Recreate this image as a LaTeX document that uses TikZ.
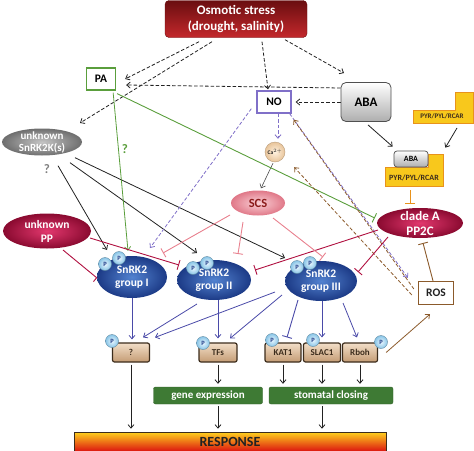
\documentclass[tikz,border=0pt]{standalone}
\usepackage{fontspec}
\setmainfont{Carlito}
\usetikzlibrary{arrows.meta,shapes.geometric}
\pgfdeclarelayer{bg}
\pgfsetlayers{bg,main}
\newcommand{\myfs}[2]{\fontsize{#1}{#2}\selectfont\bfseries}
\definecolor{stTop}{HTML}{6A0E10}
\definecolor{stBot}{HTML}{C4282C}
\definecolor{paG}{HTML}{5A9E3C}
\definecolor{noP}{HTML}{8070C8}
\definecolor{abaB}{HTML}{505050}
\definecolor{abaG}{HTML}{AEAEAE}
\definecolor{yelF}{HTML}{F8C81C}
\definecolor{yelB}{HTML}{E8921C}
\definecolor{ppIn}{HTML}{E2386E}
\definecolor{ppOut}{HTML}{8A0A30}
\definecolor{snIn}{HTML}{5282D0}
\definecolor{snOut}{HTML}{1C3A86}
\definecolor{kkIn}{HTML}{C4C4C4}
\definecolor{kkOut}{HTML}{6E6E6E}
\definecolor{scIn}{HTML}{FAD0D6}
\definecolor{scOut}{HTML}{E07888}
\definecolor{scT}{HTML}{8B1A1A}
\definecolor{caIn}{HTML}{FFF2E0}
\definecolor{caOut}{HTML}{E8C49A}
\definecolor{pIn}{HTML}{EAF7FF}
\definecolor{pOut}{HTML}{88C4E6}
\definecolor{pT}{HTML}{1C3A86}
\definecolor{tgTop}{HTML}{F2DEC8}
\definecolor{tgBot}{HTML}{C49C74}
\definecolor{tgB}{HTML}{3C2C1C}
\definecolor{gnF}{HTML}{3E7A34}
\definecolor{rsTop}{HTML}{FFD21E}
\definecolor{rsMid}{HTML}{EE3012}
\definecolor{rsBot}{HTML}{DC1610}
\definecolor{brn}{HTML}{8B5A2B}
\definecolor{crim}{HTML}{B01040}
\definecolor{pnk}{HTML}{E8808E}
\definecolor{blu}{HTML}{4A4AA8}
\definecolor{blk}{HTML}{222222}
\begin{document}
\begin{tikzpicture}[x=1pt,y=-1pt,
  ar/.style={-{Straight Barb[length=3.5pt,width=6pt]}, line width=0.8pt},
  tb/.style={-{Bar[width=10pt]}, line width=0.9pt},
  dsh/.style={dash pattern=on 3.5pt off 2pt},
  ell/.style={ellipse, inner sep=-6pt, align=center, text=white},
  sn/.style={ell, minimum width=72pt, minimum height=42pt, inner color=snIn, outer color=snOut, font={\myfs{11.5}{13}}},
  pc/.style={circle, inner sep=0pt, minimum size=13pt, draw=pOut!70!black, line width=0.4pt, inner color=pIn, outer color=pOut, text=pT, font={\myfs{6.5}{7}}},
  tgt/.style={rectangle, rounded corners=2pt, draw=tgB, line width=1.2pt, top color=tgTop, bottom color=tgBot, minimum height=19pt, inner sep=0pt, text=tgB, font={\myfs{9}{10}}},
  gbox/.style={rectangle, rounded corners=2pt, fill=gnF, draw=gnF!80!black, minimum height=17pt, inner sep=0pt, text=white, font={\myfs{11}{12}}},
  sq/.style={rectangle, fill=white, line width=1.3pt, minimum height=22pt, inner sep=0pt, font={\myfs{11.5}{12}}}
]
\useasboundingbox (0,0) rectangle (474,450);

% ---------- nodes ----------
\node[draw=stTop, rounded corners=4pt, top color=stTop, bottom color=stBot, minimum width=142pt, minimum height=37pt, inner sep=0pt, text=white, align=center, font={\myfs{13}{16}}] (stress) at (236,19) {Osmotic stress\\(drought, salinity)};

\node[sq, draw=paG, minimum width=29pt] (PA) at (101,79) {PA};
\node[sq, draw=noP, minimum width=34pt] (NO) at (274,102) {NO};
\node[draw=abaB, line width=0.8pt, rounded corners=5pt, top color=white, bottom color=abaG, minimum width=50pt, minimum height=39pt, inner sep=0pt, font={\myfs{13}{14}}] (ABA) at (366,102) {ABA};

% free receptor
\draw[fill=yelF, draw=yelB, line width=1pt] (413,110) -- (455,110) -- (455,92) -- (473.5,92) -- (473.5,123) -- (413,123) -- cycle;
\node[inner sep=0pt, text=tgB, font={\myfs{7}{8}}] (pyr) at (442,116.5) {PYR/PYL/RCAR};

% complex
\draw[fill=yelF, draw=yelB, line width=1pt] (385,167) -- (428,167) -- (428,154) -- (443,154) -- (443,186) -- (385,186) -- cycle;
\node[draw=abaB, line width=0.7pt, rounded corners=3pt, top color=white, bottom color=abaG, minimum width=34pt, minimum height=16pt, inner sep=0pt, font={\myfs{8}{9}}] (cABA) at (411,159) {ABA};
\node[inner sep=0pt, text=tgB, font={\myfs{8}{9}}] (cR) at (414,177.5) {PYR/PYL/RCAR};

\node[ell, minimum width=86pt, minimum height=30pt, inner color=ppIn, outer color=ppOut, font={\myfs{13}{15}}] (PP2C) at (420,223) {clade A\\PP2C};
\node[sq, draw=brn, minimum width=35pt, minimum height=23pt, text=blk] (ROS) at (436,293) {ROS};

\node[circle, draw=caOut!80!black, line width=0.4pt, inner color=caIn, outer color=caOut, minimum size=20pt, inner sep=0pt, text=blk, font={\myfs{5.5}{6}}] (Ca) at (275,152) {Ca$^{2+}$};
\node[ell, minimum width=54pt, minimum height=25pt, inner color=scIn, outer color=scOut, text=scT, font={\myfs{12.5}{13}}] (SCS) at (258,203) {SCS};

\node[ell, minimum width=80pt, minimum height=27pt, inner color=kkIn, outer color=kkOut, font={\myfs{11}{12}}] (SnRK2K) at (42,142) {unknown\\SnRK2K(s)};
\node[ell, minimum width=88pt, minimum height=35pt, inner color=ppIn, outer color=ppOut, font={\myfs{11.5}{14}}] (uPP) at (47,231) {unknown\\PP};

\node[sn, minimum width=70pt] (grpI) at (132,277) {SnRK2\\group I};
\node[sn, minimum width=74pt, minimum height=40pt] (grpII) at (214,280) {SnRK2\\group II};
\node[sn, minimum height=40pt] (grpIII) at (321,281) {SnRK2\\group III};

\node[pc] (pI1) at (105,264) {P};
\node[pc] (pI2) at (119,258) {P};
\node[pc] (pII1) at (193,268) {P};
\node[pc] (pII2) at (207,263) {P};
\node[pc] (pIII1) at (297,267) {P};
\node[pc] (pIII2) at (310,263) {P};

\node[tgt, minimum width=37pt] (q) at (131,352.5) {?};
\node[tgt, minimum width=38pt] (TFs) at (218,352.5) {TFs};
\node[tgt, minimum width=36pt] (KAT1) at (283,352.5) {KAT1};
\node[tgt, minimum width=37pt] (SLAC1) at (322,352.5) {SLAC1};
\node[tgt, minimum width=35pt] (Rboh) at (360,352.5) {Rboh};

\node[pc] (pq) at (112,341) {P};
\node[pc] (pTF) at (203,343) {P};
\node[pc] (pK) at (272,340) {P};
\node[pc] (pS) at (313,340) {P};
\node[pc] (pR) at (381,342) {P};

\node[gbox, minimum width=109pt] (gene) at (208,395.5) {gene expression};
\node[gbox, minimum width=124pt] (stom) at (331,395.5) {stomatal closing};

\node[rectangle, draw=tgB, line width=0.6pt, top color=rsTop, middle color=rsMid, bottom color=rsBot, minimum width=312pt, minimum height=19pt, inner sep=0pt, text=blk, font={\myfs{14}{15}}] (RESP) at (230,441.5) {RESPONSE};

\node[inner sep=0pt, text=gray, font={\myfs{13}{14}}] (qk) at (47,169) {?};
\node[inner sep=0pt, text=paG, font={\myfs{13}{14}}] (qg) at (125,149) {?};

% ---------- connectors ----------
\begin{pgfonlayer}{bg}
% dashed black
\draw[ar,dsh,blk] ([shift={(-37,4)}]stress.south) -- ([shift={(9,0)}]PA.east);
\draw[ar,dsh,blk] ([shift={(-24,4)}]stress.south) -- ([shift={(38,-19)}]SnRK2K.center);
\draw[ar,dsh,blk] ([shift={(0,-14)}]ABA.west) -- ([shift={(10,6)}]PA.east);
\draw[ar,dsh,blk] ([shift={(26,4)}]stress.south) -- ([shift={(-6,-1)}]NO.north);
\draw[ar,dsh,blk] ([shift={(49,2)}]stress.south) -- ([shift={(-22,-9)}]ABA.north);
\draw[ar,dsh,blk] (ABA.west) -- ([shift={(4,0)}]NO.east);
% solid black
\draw[ar,blk] ([shift={(2,3)}]ABA.south) -- ([shift={(-1,-4)}]cABA.north west);
\draw[ar,blk] ([shift={(15,11.5)}]pyr.center) -- ([shift={(17,-3)}]cABA.north east);
\draw[ar,blk] ([shift={(16,10)}]SnRK2K.south) -- ([shift={(-25,-27)}]grpI.center);
\draw[ar,blk] ([shift={(28,7)}]SnRK2K.south) -- ([shift={(-17,-27)}]grpII.center);
\draw[ar,blk] ([shift={(33,2)}]SnRK2K.south) -- ([shift={(-36,-23)}]grpIII.center);
\draw[ar,line width=0.6pt,gray!60!black] ([shift={(-2,1)}]Ca.south) -- ([shift={(3,-2)}]SCS.north);
% green
\draw[tb,paG] ([shift={(1,3)}]PA.south east) -- ([shift={(-2,-5)}]PP2C.west);
\draw[ar,paG] ([shift={(-3,2)}]PA.south east) -- ([shift={(-4,-5)}]grpI.north);
% purple dashed
\draw[ar,dsh,noP] ([shift={(4,0)}]NO.south) -- ([shift={(3,-3)}]Ca.north);
\draw[ar,dsh,noP] ([shift={(-5,-5)}]NO.south west) -- ([shift={(18,-29)}]grpI.center);
\draw[ar,dsh,noP] ([shift={(-2,0)}]NO.south east) -- ([shift={(-10,-3)}]ROS.north west);
% brown
\draw[ar,dsh,brn] ([shift={(-4,-4)}]ROS.west) -- ([shift={(2,6)}]NO.south east);
\draw[ar,dsh,brn] ([shift={(-6,2)}]ROS.west) -- ([shift={(12,8)}]Ca.south east);
\draw[ar,brn] ([shift={(8,0)}]Rboh.east) -- ([shift={(-6,9)}]ROS.south);
\draw[tb,brn] ([shift={(-3,0)}]ROS.north) -- ([shift={(3,20)}]PP2C.center);
% orange
\draw[tb,yelB] ([shift={(-4,12.5)}]cR.center) -- ([shift={(-10,-19)}]PP2C.center);
% crimson T
\draw[tb,crim] ([shift={(16,19)}]uPP.center) -- ([shift={(-35,1)}]grpI.center);
\draw[tb,crim] ([shift={(43,7)}]uPP.center) -- ([shift={(-35,-15)}]grpII.center);
\draw[tb,crim] ([shift={(-42,7)}]PP2C.center) -- ([shift={(41,-10)}]grpII.center);
\draw[tb,crim] ([shift={(-32,14)}]PP2C.center) -- ([shift={(37,-9)}]grpIII.center);
% pink T
\draw[tb,pnk] ([shift={(-28,12)}]SCS.center) -- ([shift={(31,-24)}]grpI.center);
\draw[tb,pnk] ([shift={(-15,19)}]SCS.center) -- ([shift={(24,-26)}]grpII.center);
\draw[tb,pnk] ([shift={(15,15)}]SCS.center) -- ([shift={(2,-24)}]grpIII.center);
% blue
\draw[ar,blu] (grpI.south) -- ([shift={(1,-3)}]q.north);
\draw[ar,blu] ([shift={(-17,24)}]grpII.center) -- ([shift={(12,-5)}]q.north);
\draw[ar,blu] ([shift={(-46,11)}]grpIII.center) -- ([shift={(24,-5)}]q.north);
\draw[ar,blu] ([shift={(4,0)}]grpII.south) -- ([shift={(0,-4)}]TFs.north);
\draw[ar,blu] ([shift={(-39,14)}]grpIII.center) -- ([shift={(12,-4)}]TFs.north);
\draw[tb,blu] ([shift={(-23,19)}]grpIII.center) -- ([shift={(4,-5)}]KAT1.north);
\draw[ar,blu] ([shift={(1,0)}]grpIII.south) -- ([shift={(0,-5)}]SLAC1.north);
\draw[ar,blu] ([shift={(22,22)}]grpIII.center) -- ([shift={(-3,-5)}]Rboh.north);
% bottom black
\draw[ar,blk,shorten <=2pt,shorten >=3pt] (q.south) -- (q.south |- RESP.north);
\draw[ar,blk,shorten <=2pt,shorten >=3pt] (TFs.south) -- (TFs.south |- gene.north);
\draw[ar,blk,shorten <=2pt,shorten >=3pt] (TFs.south |- gene.south) -- (TFs.south |- RESP.north);
\draw[ar,blk,shorten <=2pt,shorten >=3pt] (KAT1.south) -- (KAT1.south |- stom.north);
\draw[ar,blk,shorten <=2pt,shorten >=3pt] (SLAC1.south) -- (SLAC1.south |- stom.north);
\draw[ar,blk,shorten <=2pt,shorten >=3pt] (Rboh.south) -- (Rboh.south |- stom.north);
\draw[ar,blk,shorten <=2pt,shorten >=3pt] (SLAC1.south |- stom.south) -- (SLAC1.south |- RESP.north);
\end{pgfonlayer}
\end{tikzpicture}
\end{document}
